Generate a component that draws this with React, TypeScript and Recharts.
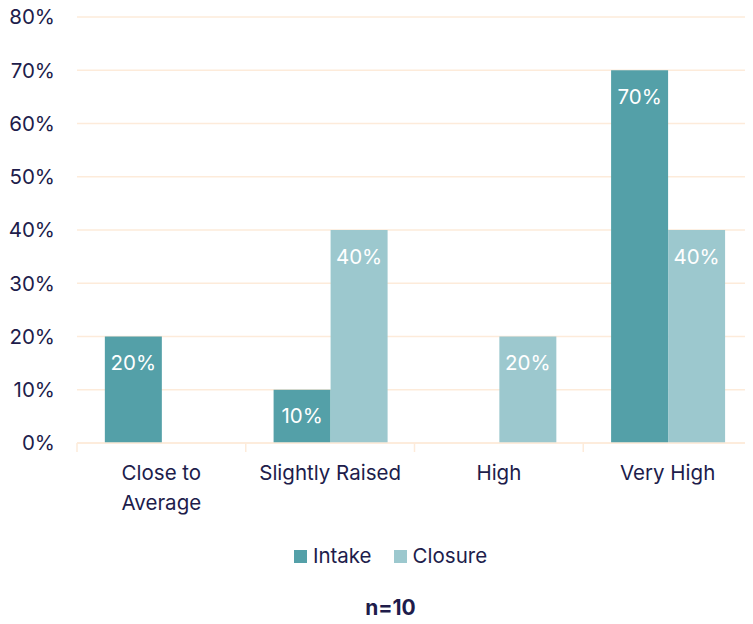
import React from "react";
import {
  BarChart,
  Bar,
  XAxis,
  YAxis,
  CartesianGrid,
  Legend,
  LabelList,
} from "recharts";

const categories = ["Close to\nAverage", "Slightly Raised", "High", "Very High"];
const intake = [20, 10, 0, 70];
const closure = [0, 40, 20, 40];
const yTicks = [0, 10, 20, 30, 40, 50, 60, 70, 80];
const sampleNote = "n=10";

const data = categories.map((name, i) => ({
  name,
  intake: intake[i],
  closure: closure[i],
}));

const TEXT = "#201C4B";
const GRID = "#FDEBDA";
const INTAKE = "#54A0A8";
const CLOSURE = "#9CC8CE";
const FONT = "Inter, 'Open Sans', sans-serif";
const FS = 20.5;

const CategoryTick = (props: any) => {
  const { x, y, payload, index, visibleTicksCount } = props;
  const half = payload && payload.offset ? payload.offset : 84.4;
  const lines = String(payload.value).split("\n");
  return (
    <g>
      <line x1={x - half} x2={x - half} y1={y} y2={y + 9} stroke={GRID} strokeWidth={1.5} />
      {index === visibleTicksCount - 1 && (
        <line x1={x + half} x2={x + half} y1={y} y2={y + 9} stroke={GRID} strokeWidth={1.5} />
      )}
      {lines.map((line, i) => (
        <text
          key={i}
          x={x}
          y={y + 37 + i * 30}
          textAnchor="middle"
          fill={TEXT}
          fontSize={FS}
          fontFamily={FONT}
        >
          {line}
        </text>
      ))}
    </g>
  );
};

const LegendContent = () => (
  <div style={{ fontFamily: FONT, color: TEXT }}>
    <div
      style={{
        display: "flex",
        justifyContent: "center",
        alignItems: "center",
        fontSize: FS,
        lineHeight: "24px",
      }}
    >
      <span style={{ width: 13, height: 13, background: INTAKE, marginRight: 6 }} />
      <span style={{ marginRight: 22 }}>Intake</span>
      <span style={{ width: 13, height: 13, background: CLOSURE, marginRight: 6 }} />
      <span>Closure</span>
    </div>
    <div
      style={{
        textAlign: "center",
        fontWeight: 700,
        fontSize: 21,
        lineHeight: "24px",
        marginTop: 28,
      }}
    >
      {sampleNote}
    </div>
  </div>
);

const pct = (v: any) => (v ? `${v}%` : "");

export default function App() {
  return (
    <div style={{ margin: -8 }}>
      <BarChart
        width={753}
        height={624}
        data={data}
        margin={{ top: 17, right: 1, left: 0, bottom: 111 }}
        barCategoryGap="16.5%"
        barGap={0}
      >
        <CartesianGrid vertical={false} stroke={GRID} strokeWidth={1.5} />
        <XAxis
          dataKey="name"
          height={70}
          axisLine={{ stroke: GRID, strokeWidth: 1.5 }}
          tickLine={false}
          tickSize={0}
          tickMargin={0}
          interval={0}
          tick={<CategoryTick />}
        />
        <YAxis
          width={77}
          domain={[0, 80]}
          ticks={yTicks}
          tickFormatter={(v) => `${v}%`}
          axisLine={false}
          tickLine={false}
          tickMargin={16}
          tick={{ fill: TEXT, fontSize: FS, fontFamily: FONT }}
        />
        <Legend
          layout="horizontal"
          verticalAlign="middle"
          align="center"
          content={<LegendContent />}
          wrapperStyle={{ top: 544, left: 14, width: 753 }}
        />
        <Bar dataKey="intake" name="Intake" fill={INTAKE} isAnimationActive={false}>
          <LabelList
            dataKey="intake"
            position="insideTop"
            offset={19}
            formatter={pct}
            fill="#FFFFFF"
            fontSize={FS}
            fontFamily={FONT}
          />
        </Bar>
        <Bar dataKey="closure" name="Closure" fill={CLOSURE} isAnimationActive={false}>
          <LabelList
            dataKey="closure"
            position="insideTop"
            offset={19}
            formatter={pct}
            fill="#FFFFFF"
            fontSize={FS}
            fontFamily={FONT}
          />
        </Bar>
      </BarChart>
    </div>
  );
}
